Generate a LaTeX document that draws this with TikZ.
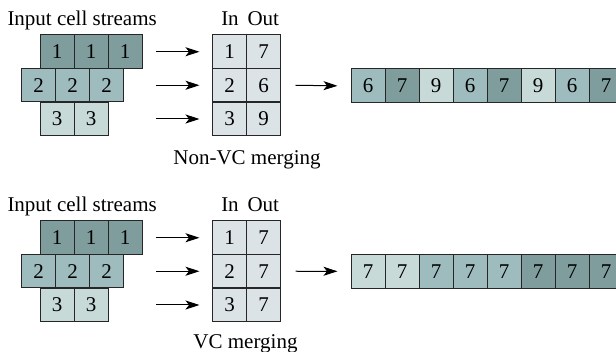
\documentclass[tikz,border=0pt]{standalone}
\usepackage{fontspec}
\setmainfont{Liberation Serif}
\usetikzlibrary{arrows.meta}
\definecolor{cdark}{HTML}{7E9D9C}
\definecolor{cmed}{HTML}{9EBBBE}
\definecolor{clight}{HTML}{C7DAD8}
\definecolor{ctab}{HTML}{DCE3E7}
\definecolor{cline}{HTML}{262626}
\begin{document}
\begin{tikzpicture}[x=1pt,y=-1pt,
  cell/.style={draw=cline, line width=1pt, minimum width=34pt, minimum height=33.5pt,
    inner sep=0pt, font=\fontsize{21}{25}\selectfont},
  dk/.style={cell, fill=cdark},
  md/.style={cell, fill=cmed},
  lt/.style={cell, fill=clight},
  tb/.style={cell, fill=ctab},
  lbl/.style={font=\fontsize{21}{25}\selectfont, inner sep=0pt, anchor=base},
  arr/.style={line width=1pt, draw=black, -{Stealth[length=14pt,width=9pt,inset=3.5pt]}}]
\useasboundingbox (0,0) rectangle (616,352);
\clip (0,0) rectangle (616,352);
\fill[white] (0,0) rectangle (616,352);

% ---------- Top: Non-VC merging ----------
\begin{scope}
\node[lbl, anchor=base west] (ta) at (7.3,26) {Input cell streams};
\node[lbl] (tin) at (230,26) {In};
\node[lbl] (tout) at (263.3,26) {Out};
\node[dk] (a11) at (57,51.75) {1};
\node[dk] (a12) at (91,51.75) {1};
\node[dk] (a13) at (125,51.75) {1};
\node[md] (a21) at (38.7,85.25) {2};
\node[md] (a22) at (72.7,85.25) {2};
\node[md] (a23) at (106.7,85.25) {2};
\node[lt] (a31) at (57,119) {3};
\node[lt] (a32) at (91,119) {3};
\node[tb] (at1i) at (229.7,51.75) {1};
\node[tb] (at1o) at (263.7,51.75) {7};
\node[tb] (at2i) at (229.7,85.25) {2};
\node[tb] (at2o) at (263.7,85.25) {6};
\node[tb] (at3i) at (229.7,119) {3};
\node[tb] (at3o) at (263.7,119) {9};
\coordinate (aar1) at (156,51.75);
\coordinate (aar2) at (156,85.25);
\coordinate (aar3) at (156,119);
\draw[arr] (aar1) -- ([xshift=-12.7pt]at1i.west);
\draw[arr] (aar2) -- ([xshift=-12.7pt]at2i.west);
\draw[arr] (aar3) -- ([xshift=-12.7pt]at3i.west);
\node[lbl] (alab) at (247,165) {Non-VC merging};
\foreach \v/\s [count=\k from 0] in {6/md,7/dk,9/lt,6/md,7/dk,9/lt,6/md,7/dk}
  \node[\s, minimum height=33.7pt] (as\k) at (368+34*\k,85.85) {\v};
\draw[arr] ([xshift=14.3pt]at2o.east) -- ([xshift=-13pt]as0.west);
\end{scope}

% ---------- Bottom: VC merging ----------
\begin{scope}[shift={(0,186)}]
\node[lbl, anchor=base west] (ba) at (7.3,25.7) {Input cell streams};
\node[lbl] (bin) at (230,25.7) {In};
\node[lbl] (bout) at (263.3,25.7) {Out};
\node[dk] (b11) at (57,51.75) {1};
\node[dk] (b12) at (91,51.75) {1};
\node[dk] (b13) at (125,51.75) {1};
\node[md] (b21) at (38.7,85.25) {2};
\node[md] (b22) at (72.7,85.25) {2};
\node[md] (b23) at (106.7,85.25) {2};
\node[lt] (b31) at (57,119) {3};
\node[lt] (b32) at (91,119) {3};
\node[tb] (bt1i) at (229.7,51.75) {1};
\node[tb] (bt1o) at (263.7,51.75) {7};
\node[tb] (bt2i) at (229.7,85.25) {2};
\node[tb] (bt2o) at (263.7,85.25) {7};
\node[tb] (bt3i) at (229.7,119) {3};
\node[tb] (bt3o) at (263.7,119) {7};
\coordinate (bar1) at (156,51.75);
\coordinate (bar2) at (156,85.25);
\coordinate (bar3) at (156,119);
\draw[arr] (bar1) -- ([xshift=-12.7pt]bt1i.west);
\draw[arr] (bar2) -- ([xshift=-12.7pt]bt2i.west);
\draw[arr] (bar3) -- ([xshift=-12.7pt]bt3i.west);
\node[lbl] (blab) at (245.5,162.3) {VC merging};
\foreach \v/\s [count=\k from 0] in {7/lt,7/lt,7/md,7/md,7/md,7/dk,7/dk,7/dk}
  \node[\s, minimum height=34pt] (bs\k) at (368+34*\k,85.3) {\v};
\draw[arr] ([xshift=14.3pt]bt2o.east) -- ([xshift=-13pt]bs0.west);
\end{scope}
\end{tikzpicture}
\end{document}
